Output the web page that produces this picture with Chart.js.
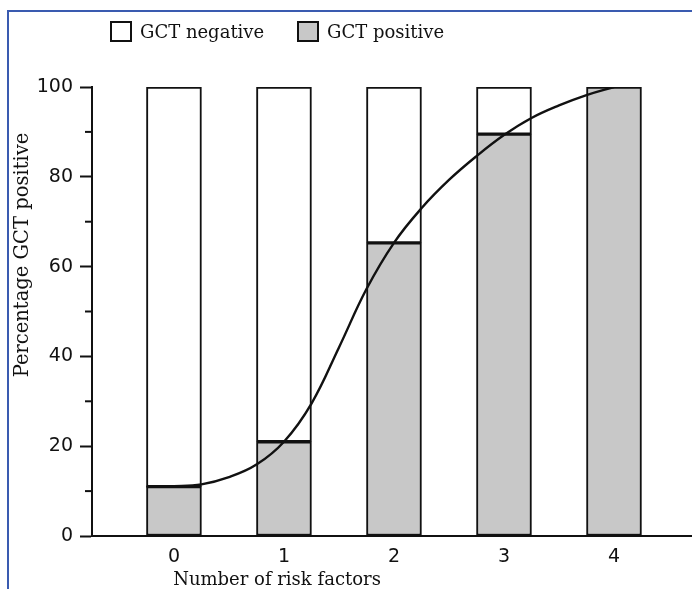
<!DOCTYPE html>
<html>
<head>
<meta charset="utf-8">
<script src="https://cdn.jsdelivr.net/npm/chart.js@4.4.0/dist/chart.umd.min.js"></script>
<style>
  body { margin: 0; background: #fff; }
  #wrap { position: relative; width: 692px; height: 589px; overflow: hidden; }
  #frame { position: absolute; left: 7px; top: 10px; right: -5px; bottom: -5px;
           border-top: 2px solid #3a5bb0; border-left: 2px solid #3a5bb0; }
  canvas { position: absolute; left: 0; top: 0; }
  .leg { position: absolute; top: 21px; font: 18px "DejaVu Serif", serif; color: #111;
         display: flex; align-items: center; }
  .box { width: 18px; height: 17px; border: 2px solid #111; margin-right: 8px; }
</style>
</head>
<body>
<div id="wrap">
  <div id="frame"></div>
  <canvas id="myChart" width="692" height="589"></canvas>
  <div class="leg" style="left:110px"><span class="box" style="background:#fff"></span>GCT negative</div>
  <div class="leg" style="left:297px"><span class="box" style="background:#c8c8c8"></span>GCT positive</div>
</div>
<script>
const riskFactors = [0, 1, 2, 3, 4];
const pctPositive = [11, 21, 65.3, 89.5, 100];
const curveX = [-0.25, 0, 0.25, 0.5, 0.75, 1.0, 1.25, 1.5, 1.75, 2.0, 2.25, 2.5, 2.75, 3.0, 3.25, 3.5, 3.75, 4.0];
const curveY = [11, 11.1, 11.5, 13.1, 15.9, 21, 29.5, 42, 55, 65.3, 73, 79.3, 84.6, 89.3, 93.1, 95.9, 98.2, 100];
const yTicks = [0, 20, 40, 60, 80, 100];

const serif = '"DejaVu Serif", serif';
const sans = '"DejaVu Sans", sans-serif';

// minor ticks on the y axis + axis titles
const extras = {
  id: 'extras',
  afterDraw(chart) {
    const c = chart.ctx, y = chart.scales.y, area = chart.chartArea;
    c.save();
    c.strokeStyle = '#111';
    c.lineWidth = 2;
    for (let v = 10; v < 100; v += 20) {
      const py = y.getPixelForValue(v);
      c.beginPath();
      c.moveTo(area.left - 7, py);
      c.lineTo(area.left, py);
      c.stroke();
    }
    c.fillStyle = '#111';
    c.textAlign = 'center';
    c.textBaseline = 'middle';
    c.font = '18px ' + serif;
    c.fillText('Number of risk factors', 277, 580);
    c.font = '19.5px ' + serif;
    c.translate(23, 255);
    c.rotate(-Math.PI / 2);
    c.fillText('Percentage GCT positive', 0, 0);
    c.restore();
  }
};

const ctx = document.getElementById('myChart');

const chart = new Chart(ctx, {
  data: {
    datasets: [
      {
        type: 'line',
        label: 'fit',
        data: curveX.map((x, i) => ({ x: x, y: curveY[i] })),
        borderColor: '#111',
        borderWidth: 2.4,
        pointRadius: 0,
        tension: 0.4,
        order: 0
      },
      {
        type: 'bar',
        label: 'GCT positive',
        data: riskFactors.map((x, i) => ({ x: x, y: pctPositive[i] })),
        backgroundColor: '#c8c8c8',
        borderColor: '#111',
        borderWidth: 2,
        borderSkipped: false,
        barThickness: 55,
        grouped: false,
        order: 1
      },
      {
        type: 'bar',
        label: 'GCT negative',
        data: riskFactors.map((x, i) => ({ x: x, y: [pctPositive[i], 100] })),
        backgroundColor: '#fff',
        borderColor: '#111',
        borderWidth: 2,
        borderSkipped: false,
        barThickness: 55,
        grouped: false,
        order: 2
      }
    ]
  },
  options: {
    responsive: false,
    animation: false,
    layout: { padding: { top: 87, right: 1, left: 0, bottom: 0 } },
    plugins: { legend: { display: false }, tooltip: { enabled: false } },
    scales: {
      x: {
        type: 'linear',
        offset: false,
        min: -0.745,
        max: 4.70,
        afterBuildTicks: (s) => { s.ticks = riskFactors.map(v => ({ value: v })); },
        afterFit: (s) => { s.height = 53; },
        grid: { display: false, drawTicks: false },
        border: { color: '#111', width: 2 },
        ticks: { color: '#111', font: { family: sans, size: 19 }, padding: 10 }
      },
      y: {
        min: 0,
        max: 100,
        afterBuildTicks: (s) => { s.ticks = yTicks.map(v => ({ value: v })); },
        afterFit: (s) => { s.width = 92; },
        grid: { drawOnChartArea: false, tickLength: 12, tickColor: '#111', tickWidth: 2 },
        border: { color: '#111', width: 2 },
        ticks: { color: '#111', font: { family: sans, size: 19 }, padding: 7 }
      }
    }
  },
  plugins: [extras]
});
</script>
</body>
</html>
